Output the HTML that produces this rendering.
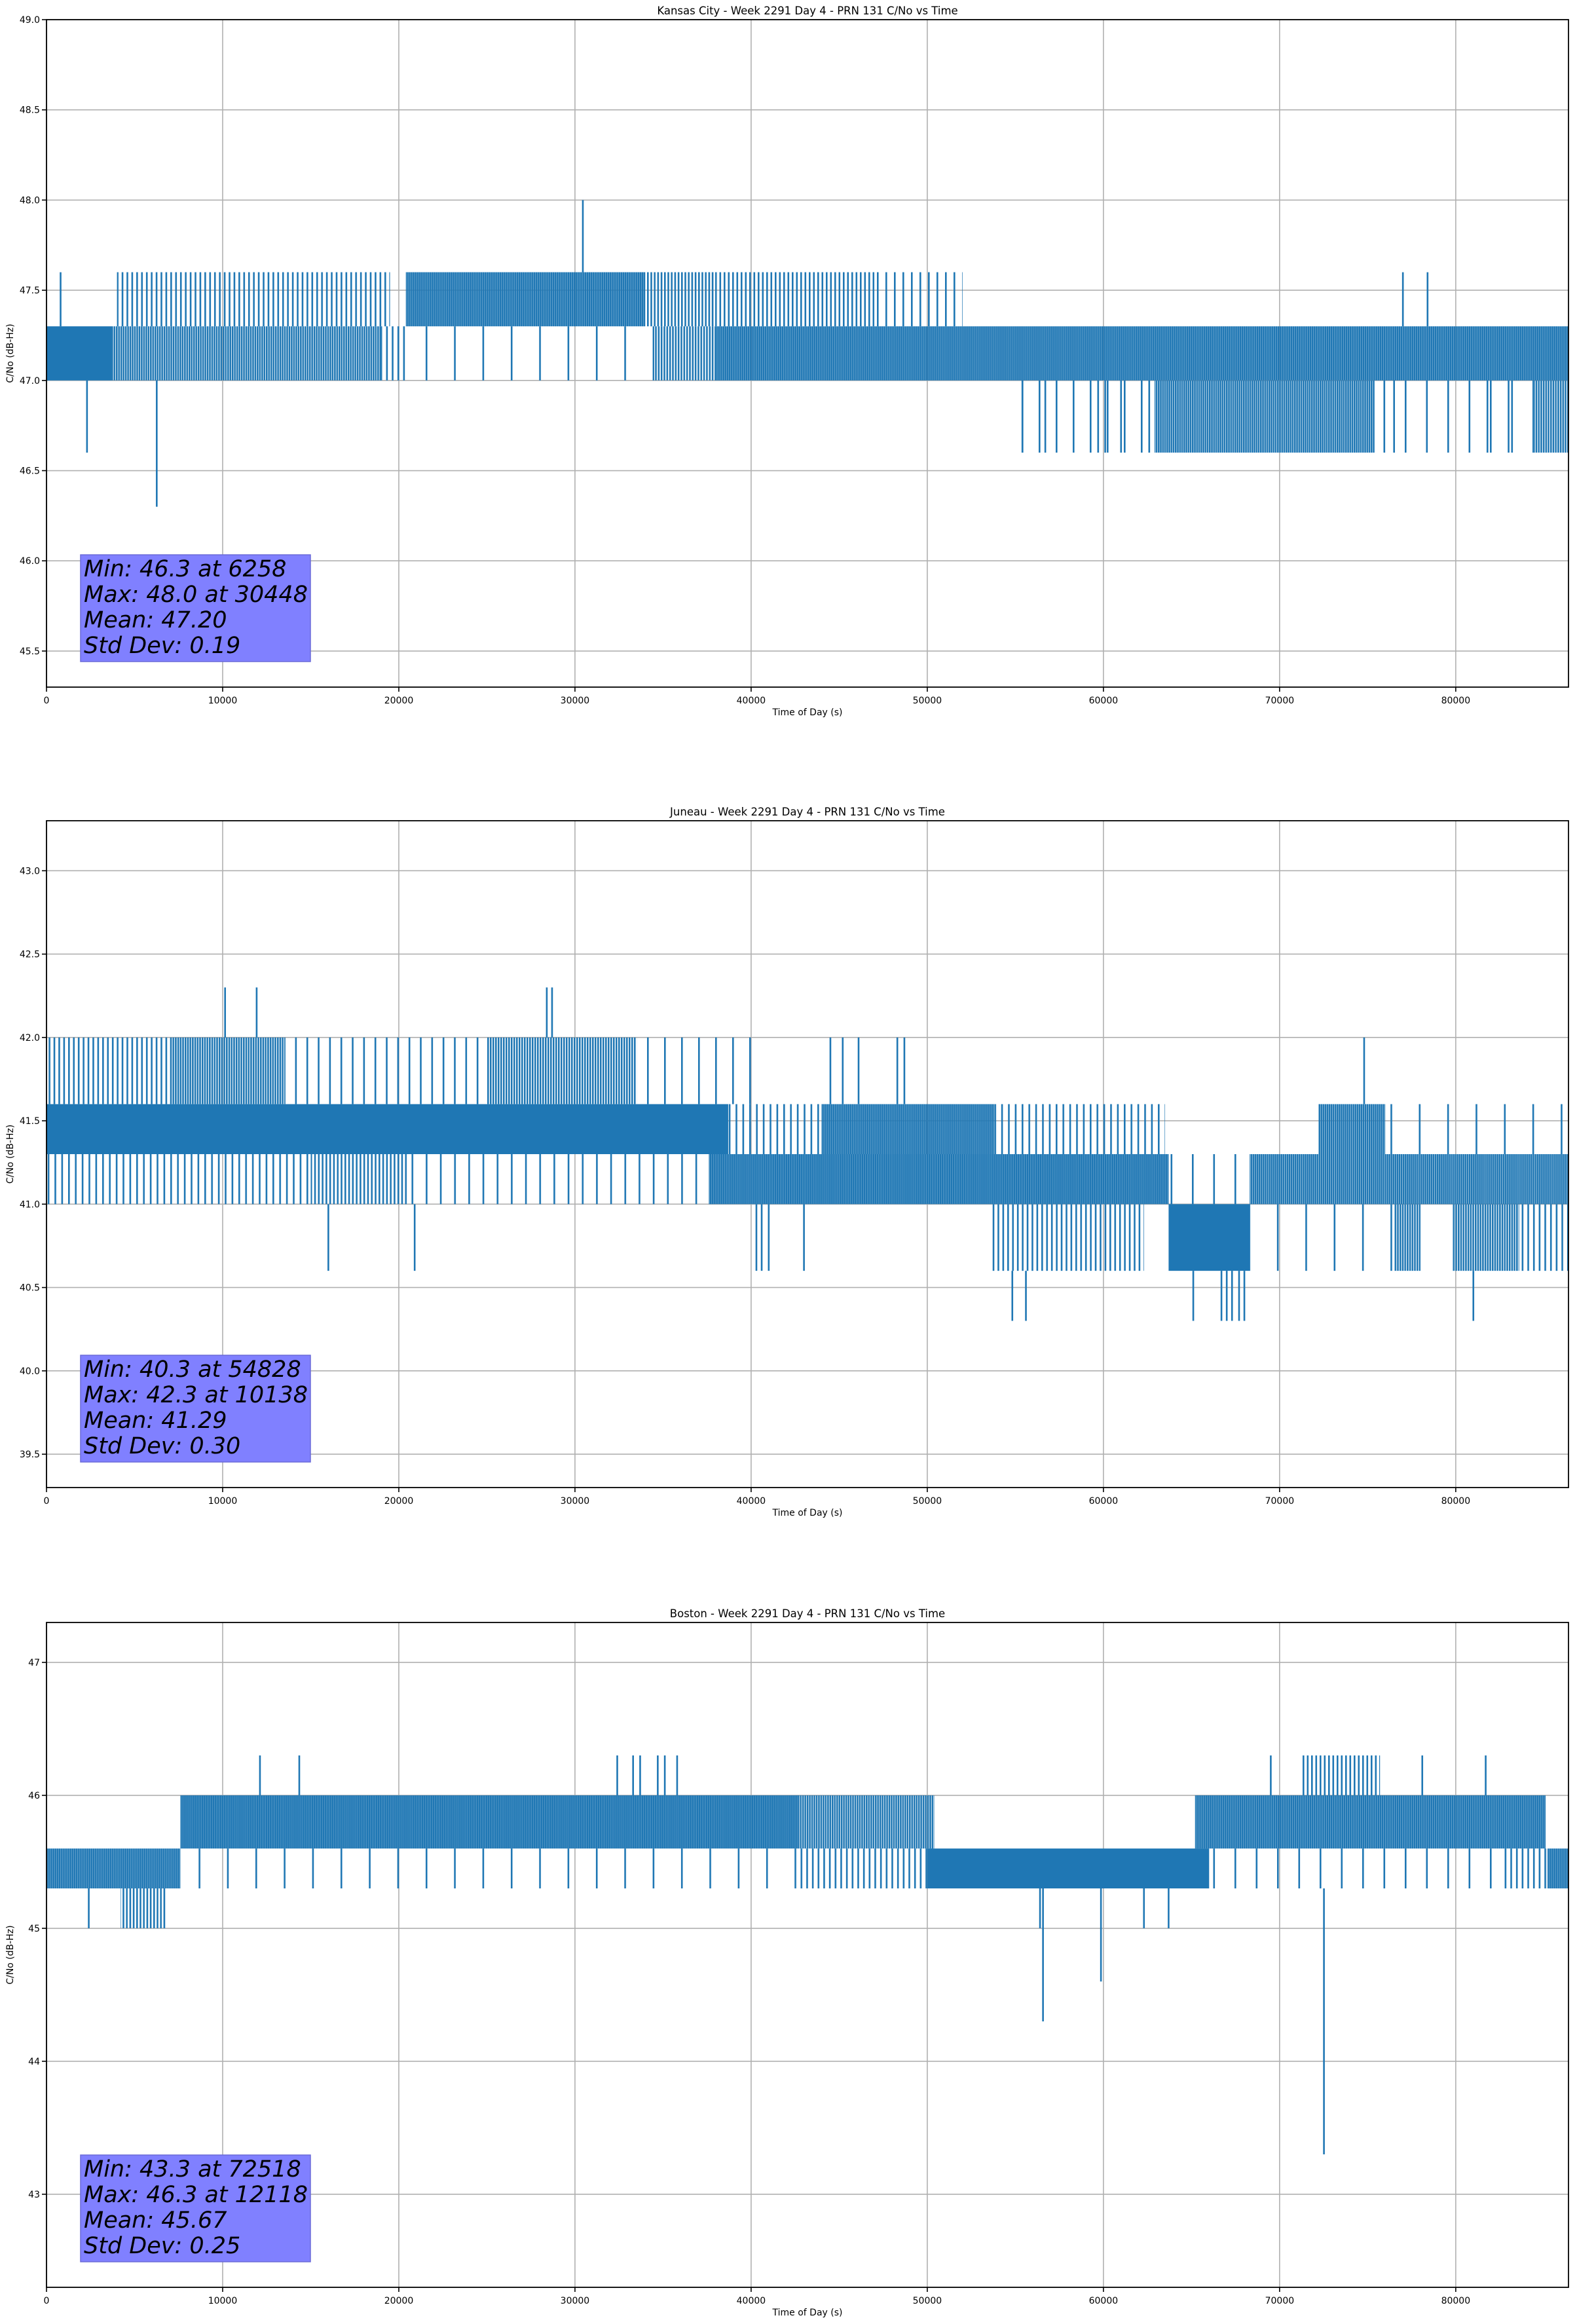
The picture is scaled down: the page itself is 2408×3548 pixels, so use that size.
<!DOCTYPE html>
<html><head><meta charset="utf-8"><style>
html,body{margin:0;padding:0;background:#fff;}
svg{display:block;font-family:"DejaVu Sans","Liberation Sans",sans-serif;}
</style></head><body>
<svg id="fig" width="2408" height="3548" viewBox="0 0 2408 3548" xmlns="http://www.w3.org/2000/svg"><defs id="defs"></defs></svg>
<script>
// ---------- Chart data ----------
const xTicks = [0,10000,20000,30000,40000,50000,60000,70000,80000];
const xMax = 86400;

const kcTitle = "Kansas City - Week 2291 Day 4 - PRN 131 C/No vs Time";
const kcYRange = [45.3, 49.0];
const kcYTicks = [45.5,46.0,46.5,47.0,47.5,48.0,48.5,49.0];
const kcBands = [
 [0,3700,47.0,47.3,1],[3700,19000,47.0,47.3,0.75],[19000,20400,47.0,47.3,0.3],
 [20400,34500,47.0,47.3,0.06],[34500,38000,47.0,47.3,0.6],[38000,86400,47.0,47.3,0.9],
 [4000,19500,47.3,47.6,0.35],[20400,34000,47.3,47.6,0.9],[34000,38000,47.3,47.6,0.5],
 [38000,47000,47.3,47.6,0.4],[47000,52000,47.3,47.6,0.2],
 [55000,62900,46.6,47.0,0.1],[62900,75400,46.6,47.0,0.8],[75400,84400,46.6,47.0,0.08],[84400,86400,46.6,47.0,0.7]
];
const kcSpikes = [
 [800,47.3,47.6],[2300,46.6,47.0],[6258,46.3,47.0],[30448,47.6,48.0],[77000,47.3,47.6],[78400,47.3,47.6],
 [55400,46.6,47.0],[56700,46.6,47.0],[59700,46.6,47.0],[60100,46.6,47.0],[61000,46.6,47.0],[62600,46.6,47.0],
 [76500,46.6,47.0],[81800,46.6,47.0],[83000,46.6,47.0]
];
const kcStats = ["Min: 46.3 at 6258","Max: 48.0 at 30448","Mean: 47.20","Std Dev: 0.19"];

const juTitle = "Juneau - Week 2291 Day 4 - PRN 131 C/No vs Time";
const juYRange = [39.3, 43.3];
const juYTicks = [39.5,40.0,40.5,41.0,41.5,42.0,42.5,43.0];
const juBands = [
 [0,38700,41.3,41.6,0.95],[38700,44000,41.3,41.6,0.25],[44000,53800,41.3,41.6,0.9],[53800,63500,41.3,41.6,0.25],
 [72200,76000,41.3,41.6,0.85],[76000,86400,41.3,41.6,0.06],
 [0,7000,41.6,42.0,0.35],[7000,13500,41.6,42.0,0.7],[13500,25000,41.6,42.0,0.15],[25000,33500,41.6,42.0,0.65],[33500,40000,41.6,42.0,0.1],
 [0,15000,41.0,41.3,0.25],[15000,20500,41.0,41.3,0.45],[20500,37600,41.0,41.3,0.12],[37600,63700,41.0,41.3,0.92],
 [63700,68300,41.0,41.3,0.08],[68300,86400,41.0,41.3,0.85],
 [53600,62300,40.6,41.0,0.35],[63700,68300,40.6,41.0,0.95],[68300,76500,40.6,41.0,0.06],[76500,78000,40.6,41.0,0.7],
 [79800,83600,40.6,41.0,0.7],[83600,86400,40.6,41.0,0.3]
];
const juSpikes = [
 [10138,42.0,42.3],[11930,42.0,42.3],[28400,42.0,42.3],[28700,42.0,42.3],
 [16000,40.6,41.0],[20900,40.6,41.0],[40300,40.6,41.0],[40600,40.6,41.0],[41000,40.6,41.0],[43000,40.6,41.0],
 [54828,40.3,40.6],[55600,40.3,40.6],[65100,40.3,40.6],[66700,40.3,40.6],[67000,40.3,40.6],[67300,40.3,40.6],
 [67700,40.3,40.6],[68000,40.3,40.6],[81000,40.3,40.6],
 [74800,41.6,42.0],[44500,41.6,42.0],[45200,41.6,42.0],[46100,41.6,42.0],[48300,41.6,42.0],[48700,41.6,42.0]
];
const juStats = ["Min: 40.3 at 54828","Max: 42.3 at 10138","Mean: 41.29","Std Dev: 0.30"];

const boTitle = "Boston - Week 2291 Day 4 - PRN 131 C/No vs Time";
const boYRange = [42.3, 47.3];
const boYTicks = [43,44,45,46,47];
const boBands = [
 [0,7600,45.3,45.6,0.9],[7600,42700,45.3,45.6,0.06],[42700,50400,45.3,45.6,0.3],[50000,66000,45.3,45.6,0.95],
 [66000,82700,45.3,45.6,0.08],[82700,85200,45.3,45.6,0.3],[85200,86400,45.3,45.6,0.9],
 [4200,6800,45.0,45.3,0.5],
 [7600,42700,45.6,46.0,0.93],[42700,50400,45.6,46.0,0.75],[65200,85100,45.6,46.0,0.9],
 [71200,75700,46.0,46.3,0.4]
];
const boSpikes = [
 [2400,45.0,45.3],[12118,46.0,46.3],[14350,46.0,46.3],[32400,46.0,46.3],[33300,46.0,46.3],[33700,46.0,46.3],
 [34700,46.0,46.3],[35100,46.0,46.3],[35800,46.0,46.3],[69500,46.0,46.3],[78100,46.0,46.3],[81700,46.0,46.3],
 [72518,43.3,45.3],[56570,44.3,45.3],[59860,44.6,45.3],[56400,45.0,45.3],[62300,45.0,45.3],[63700,45.0,45.3]
];
const boStats = ["Min: 43.3 at 72518","Max: 46.3 at 12118","Mean: 45.67","Std Dev: 0.25"];

// ---------- Rendering ----------
const NS = "http://www.w3.org/2000/svg";
const svg = document.getElementById('fig');
const defs = document.getElementById('defs');
const BLUE = "#1f77b4";
function mk(tag, attrs, parent){
  const e = document.createElementNS(NS, tag);
  for (const k in attrs) e.setAttribute(k, attrs[k]);
  parent.appendChild(e);
  return e;
}
const patCache = {};
function stripeFill(d){
  if (d >= 0.95) return BLUE;
  const key = Math.round(d * 100);
  if (!patCache[key]) {
    const w = 2.6, p = (w / d).toFixed(2);
    const id = 'stripe' + key;
    const pat = mk('pattern', {id:id, patternUnits:'userSpaceOnUse', width:p, height:10}, defs);
    mk('rect', {x:0, y:0, width:w, height:10, fill:BLUE}, pat);
    patCache[key] = 'url(#' + id + ')';
  }
  return patCache[key];
}
const L = 71, R = 2395;

function drawChart(key, top, bottom, title, yRange, yTicks, bands, spikes, stats){
  const g = mk('g', {}, svg);
  
  
  const xs = t => L + (t / xMax) * (R - L);
  const ys = v => bottom - (v - yRange[0]) / (yRange[1] - yRange[0]) * (bottom - top);

  const grid = mk('g', {stroke:'#b0b0b0','stroke-width':1.6}, g);
  
  
  xTicks.forEach(t => { mk('line', {x1:xs(t), x2:xs(t), y1:top, y2:bottom}, grid); });
  yTicks.forEach(v => { mk('line', {x1:L, x2:R, y1:ys(v), y2:ys(v)}, grid); });

  const series = mk('g', {}, g);
  
  
  bands.forEach(b => {
    const r = mk('rect', {x:xs(b[0]), y:ys(b[3]), width:xs(b[1]) - xs(b[0]), height:ys(b[2]) - ys(b[3]), fill:stripeFill(b[4])}, series);
    
    
  });
  spikes.forEach(s => {
    const ln = mk('line', {x1:xs(s[0]), x2:xs(s[0]), y1:ys(s[1]), y2:ys(s[2]), stroke:BLUE, 'stroke-width':2.6}, series);
    
    
  });

  const frame = mk('rect', {x:L, y:top, width:R - L, height:bottom - top, fill:'none', stroke:'#000', 'stroke-width':1.8}, g);
  
  

  const xt = mk('g', {}, g);
  
  
  xTicks.forEach(t => {
    mk('line', {x1:xs(t), x2:xs(t), y1:bottom, y2:bottom + 7, stroke:'#000', 'stroke-width':1.6}, xt);
    const tx = mk('text', {x:xs(t), y:bottom + 25, 'text-anchor':'middle', 'font-size':14, fill:'#000'}, xt);
    tx.textContent = String(t);
    
    
  });
  const yt = mk('g', {}, g);
  
  
  yTicks.forEach(v => {
    mk('line', {x1:L - 7, x2:L, y1:ys(v), y2:ys(v), stroke:'#000', 'stroke-width':1.6}, yt);
    const tx = mk('text', {x:L - 10, y:ys(v) + 5, 'text-anchor':'end', 'font-size':14, fill:'#000'}, yt);
    tx.textContent = Number.isInteger(v) && yRange[1] - yRange[0] > 4.5 ? String(v) : v.toFixed(1);
    
    
  });

  const tt = mk('text', {x:(L + R) / 2, y:top - 8, 'text-anchor':'middle', 'font-size':16.5, fill:'#000'}, g);
  tt.textContent = title;
  
  
  const xl = mk('text', {x:(L + R) / 2, y:bottom + 43, 'text-anchor':'middle', 'font-size':14, fill:'#000'}, g);
  xl.textContent = "Time of Day (s)";
  
  
  const cy = (top + bottom) / 2;
  const yl = mk('text', {x:20, y:cy, 'text-anchor':'middle', 'font-size':14, fill:'#000', transform:'rotate(-90 20 ' + cy + ')'}, g);
  yl.textContent = "C/No (dB-Hz)";
  
  

  const sb = mk('g', {}, g);
  
  
  const by = bottom - 39 - 163;
  mk('rect', {x:123, y:by, width:351, height:163, fill:'#8080ff', stroke:'#6a6ad8', 'stroke-width':1.5}, sb);
  stats.forEach((s, i) => {
    const tx = mk('text', {x:128, y:by + 33 + i * 39, 'font-size':35, 'font-style':'italic', fill:'#000', textLength: null}, sb);
    tx.removeAttribute('textLength');
    tx.textContent = s;
    
    
  });
}

drawChart('kansas-city', 30, 1049, kcTitle, kcYRange, kcYTicks, kcBands, kcSpikes, kcStats);
drawChart('juneau', 1253, 2271, juTitle, juYRange, juYTicks, juBands, juSpikes, juStats);
drawChart('boston', 2477, 3492, boTitle, boYRange, boYTicks, boBands, boSpikes, boStats);
</script>
</body></html>
